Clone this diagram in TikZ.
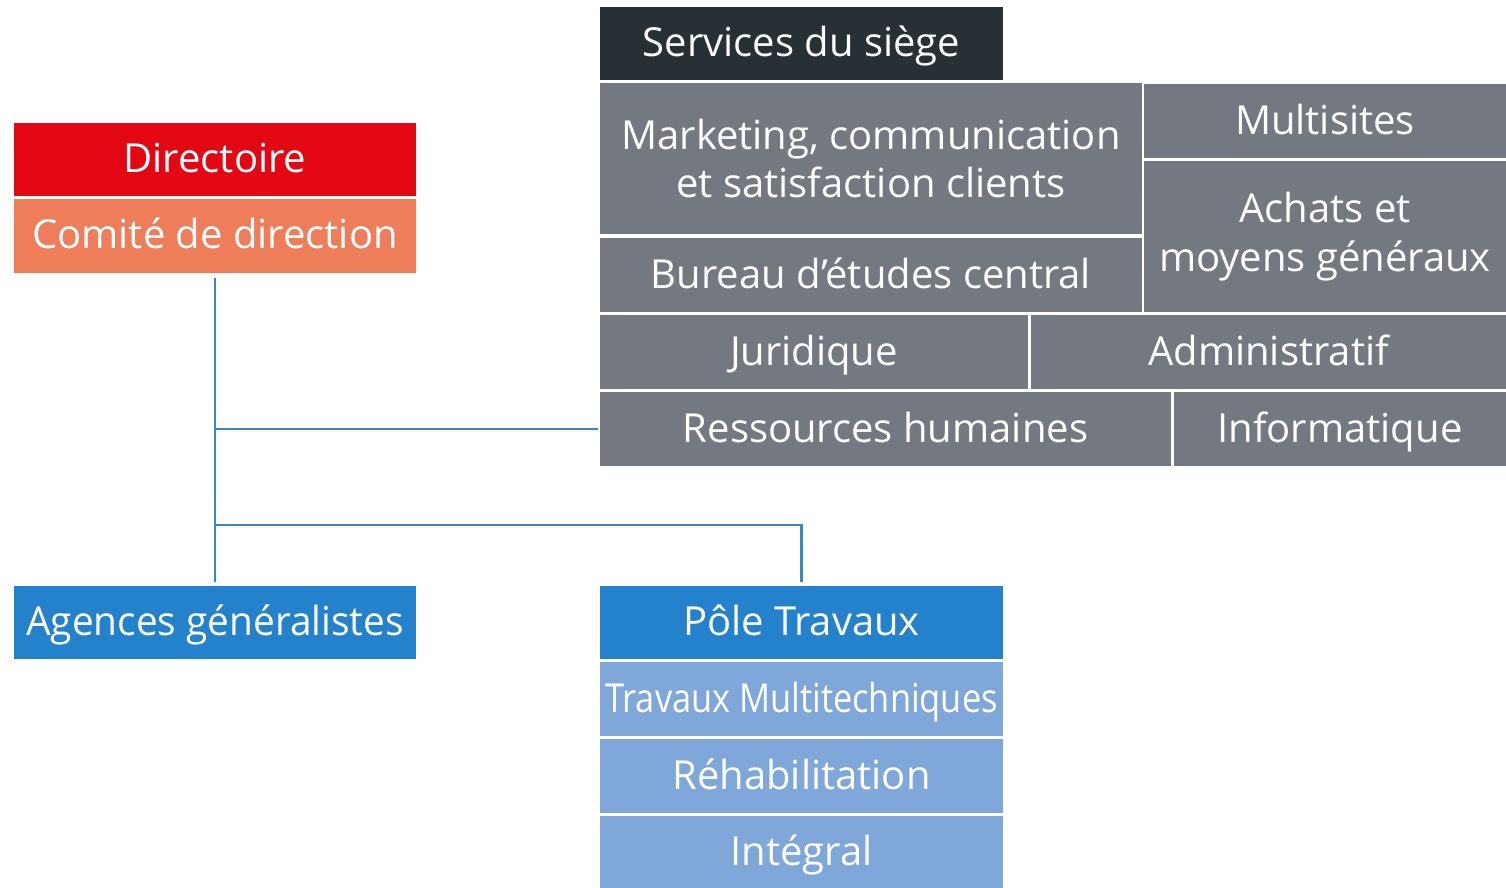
\documentclass[tikz,border=0pt]{standalone}
\usepackage{fontspec}
\setmainfont{Open Sans}
\definecolor{dark}{HTML}{263035}
\definecolor{greyb}{HTML}{747880}
\definecolor{redb}{HTML}{E30613}
\definecolor{salmon}{HTML}{EE7D5A}
\definecolor{blueb}{HTML}{2481CC}
\definecolor{lightb}{HTML}{7FA7DA}
\definecolor{linec}{HTML}{3A86C8}
\tikzset{
  box/.style={inner sep=0pt, text=white, align=center, font=\fontsize{20}{24.5}\selectfont},
  onel/.style={box, text height=16.5pt, text depth=3.5pt},
  conn/.style={draw=linec, line width=1.1pt},
}
\begin{document}
\begin{tikzpicture}[x=0.5pt,y=-0.5pt]
\useasboundingbox (0,0) rectangle (1506,888);
% Services du siege
\node[onel, fill=dark, minimum width=201.5pt, minimum height=36.5pt] (serv) at (801.5,43.5) {Services du siège};
\node[box, fill=greyb, minimum width=271pt, minimum height=75.5pt] (mkt) at (871,158.5) {Marketing, communication\\et satisfaction clients};
\node[onel, fill=greyb, minimum width=181pt, minimum height=37pt] (multi) at (1325,121) {Multisites};
\node[box, fill=greyb, minimum width=181pt, minimum height=75.5pt] (achats) at (1325,236.5) {\rule{0pt}{0pt}Achats et\\moyens généraux};
\node[onel, fill=greyb, minimum width=271pt, minimum height=37pt] (bureau) at (871,275) {Bureau d’études central};
\node[onel, fill=greyb, minimum width=214pt, minimum height=37pt] (jur) at (814,352) {Juridique};
\node[onel, fill=greyb, minimum width=237.5pt, minimum height=37pt] (adm) at (1268.5,352) {Administratif};
\node[onel, fill=greyb, minimum width=285.5pt, minimum height=37pt] (rh) at (885.5,429) {Ressources humaines};
\node[onel, fill=greyb, minimum width=166pt, minimum height=37pt] (info) at (1340,429) {Informatique};
% Direction
\node[onel, fill=redb, minimum width=201pt, minimum height=36.5pt] (dir) at (215,159.5) {Directoire};
\node[onel, fill=salmon, minimum width=201pt, minimum height=37pt] (com) at (215,236) {Comité de direction};
% Bottom
\node[onel, fill=blueb, minimum width=201pt, minimum height=36.5pt] (ag) at (215,622.5) {\scalebox{0.97}[1]{Agences généralistes}};
\node[onel, fill=blueb, minimum width=201.5pt, minimum height=36.5pt] (pole) at (801.5,622.5) {Pôle Travaux};
\node[onel, fill=lightb, minimum width=201.5pt, minimum height=37pt] (tm) at (801.5,699) {\scalebox{0.86}[1]{Travaux Multitechniques}};
\node[onel, fill=lightb, minimum width=201.5pt, minimum height=37pt] (reh) at (801.5,776) {Réhabilitation};
\node[onel, fill=lightb, minimum width=201.5pt, minimum height=36pt] (int) at (801.5,852) {Intégral};
% Connectors
\coordinate (j1) at (com.south |- rh.west);
\coordinate (j2) at (215,525);
\draw[conn, shorten <=2.5pt, shorten >=2pt] (com.south) -- (ag.north);
\draw[conn, shorten >=1pt] (j1) -- (rh.west);
\draw[conn, shorten >=2pt] (j2) -| (pole.north);
\end{tikzpicture}
\end{document}
